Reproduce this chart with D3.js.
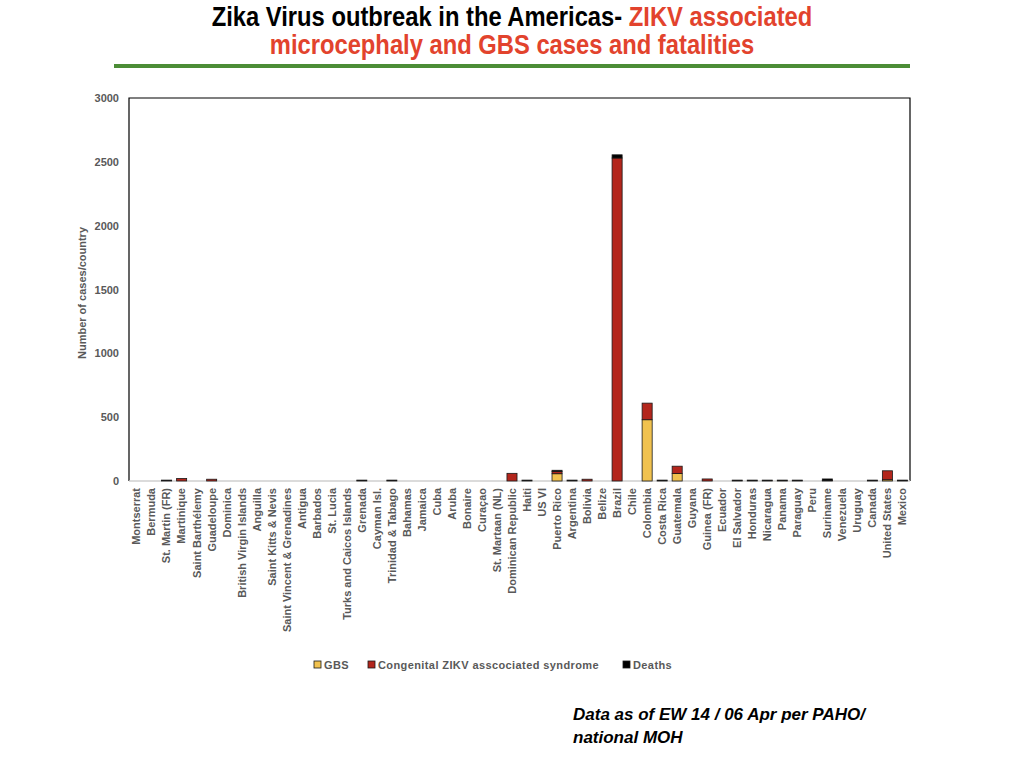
<!DOCTYPE html>
<html lang="en">
<head>
    <meta charset="UTF-8">
    <title>Zika Virus outbreak in the Americas</title>
    <script src="https://d3js.org/d3.v7.min.js"></script>
    <style>
        body { margin: 0; background: #fff; }
        svg { display: block; }
    </style>
</head>
<body>
    <div id="chart"></div>

    <script>
        // categories (x axis)
        const countries = [
            'Montserrat', 'Bermuda', 'St. Martin (FR)', 'Martinique', 'Saint Barthélemy',
            'Guadeloupe', 'Dominica', 'British Virgin Islands', 'Anguilla', 'Saint Kitts & Nevis',
            'Saint Vincent & Grenadines', 'Antigua', 'Barbados', 'St. Lucia', 'Turks and Caicos Islands',
            'Grenada', 'Cayman Isl.', 'Trinidad & Tabago', 'Bahamas', 'Jamaica',
            'Cuba', 'Aruba', 'Bonaire', 'Curaçao', 'St. Martaan (NL)',
            'Dominican Republic', 'Haiti', 'US VI', 'Puerto Rico', 'Argentina',
            'Bolivia', 'Belize', 'Brazil', 'Chile', 'Colombia',
            'Costa Rica', 'Guatemala', 'Guyana', 'Guinea (FR)', 'Ecuador',
            'El Salvador', 'Honduras', 'Nicaragua', 'Panama', 'Paraguay',
            'Peru', 'Suriname', 'Venezuela', 'Uruguay', 'Canada',
            'United States', 'Mexico'
        ];

        // series values, same order as countries
        const gbs = [
            0, 0, 0, 0, 0,   0, 0, 0, 0, 0,
            0, 0, 0, 0, 0,   0, 0, 0, 0, 0,
            0, 0, 0, 0, 0,   0, 0, 0, 57, 0,
            0, 0, 0, 0, 480, 0, 58, 0, 0, 0,
            0, 0, 0, 0, 0,   0, 0, 0, 0, 0,
            10, 0
        ];
        const congenital = [
            0, 0, 0, 20, 0,  14, 0, 0, 0, 0,
            0, 0, 0, 0, 0,   0, 0, 0, 0, 0,
            0, 0, 0, 0, 0,   60, 0, 0, 18, 0,
            14, 0, 2530, 0, 130, 0, 58, 0, 16, 0,
            0, 0, 0, 0, 0,   0, 4, 0, 0, 0,
            70, 0
        ];
        const deaths = [
            0, 0, 7, 0, 0,   0, 0, 0, 0, 0,
            0, 0, 0, 0, 0,   7, 0, 7, 0, 0,
            0, 0, 0, 0, 0,   0, 7, 0, 9, 7,
            0, 0, 25, 0, 0,  7, 0, 0, 0, 0,
            7, 7, 7, 7, 7,   0, 12, 0, 0, 7,
            0, 7
        ];

        const yTicks = [0, 500, 1000, 1500, 2000, 2500, 3000];

        const seriesNames = ['GBS', 'Congenital ZIKV asscociated syndrome', 'Deaths'];
        const seriesColors = ['#f1c24f', '#b3261c', '#000000'];

        // table for d3.stack
        const rows = countries.map((c, i) => ({
            country: c, gbs: gbs[i], congenital: congenital[i], deaths: deaths[i]
        }));
        const keys = ['gbs', 'congenital', 'deaths'];

        const W = 1024, H = 768;
        const plot = {left: 129, right: 910, top: 98, bottom: 481};
        const grey = '#595959';
        const sans = '"Liberation Sans", Arial, Helvetica, sans-serif';

        const svg = d3.select('#chart')
            .append('svg')
                .attr('width', W)
                .attr('height', H);

        // title - condensed look by squeezing a taller font horizontally
        const squeeze = 0.88;
        const title = svg.append('text')
            .attr('transform', `scale(${squeeze}, 1)`)
            .attr('text-anchor', 'middle')
            .style('font-family', sans)
            .style('font-weight', 'bold')
            .style('font-size', '27px');
        title.append('tspan')
            .attr('x', 512 / squeeze).attr('y', 26)
            .attr('fill', '#000')
            .text('Zika Virus outbreak in the Americas- ');
        title.append('tspan')
            .attr('fill', '#e2432d')
            .text('ZIKV associated');
        title.append('tspan')
            .attr('x', 512 / squeeze).attr('y', 54)
            .attr('fill', '#e2432d')
            .text('microcephaly and GBS cases and fatalities');

        // green rule under the title
        svg.append('rect')
            .attr('x', 114).attr('y', 64)
            .attr('width', 796).attr('height', 4)
            .attr('fill', '#4c8d36');

        // scales
        const x = d3.scaleBand()
            .domain(countries)
            .range([plot.left, plot.right])
            .paddingInner(0.33)
            .paddingOuter(0.17);

        const y = d3.scaleLinear()
            .domain([0, 3000])
            .range([plot.bottom, plot.top]);

        // plot frame: black top / left / right, grey baseline
        svg.append('path')
            .attr('d', `M${plot.left},${plot.bottom}V${plot.top}H${plot.right}V${plot.bottom}`)
            .attr('fill', 'none')
            .attr('stroke', '#000')
            .attr('stroke-width', 1.2);

        // x axis (baseline drawn under the bars)
        const xAxis = svg.append('g')
            .attr('transform', `translate(0, ${plot.bottom})`)
            .call(d3.axisBottom(x).tickSize(0).tickPadding(0));
        xAxis.select('.domain')
            .attr('stroke', '#cfcfcf')
            .attr('stroke-width', 1.5)
            .attr('d', `M${plot.left},0H${plot.right}`);
        xAxis.selectAll('text')
            .attr('transform', 'rotate(-90)')
            .attr('text-anchor', 'end')
            .attr('x', -7)
            .attr('y', 0)
            .attr('dy', '0.35em')
            .attr('fill', grey)
            .style('font-family', sans)
            .style('font-weight', 'bold')
            .style('font-size', '11px');

        // bars
        const stacked = d3.stack().keys(keys)(rows);
        svg.append('g')
            .selectAll('g')
            .data(stacked)
            .join('g')
                .attr('fill', (d, i) => seriesColors[i])
            .selectAll('rect')
            .data(d => d.filter(p => p[1] - p[0] > 0))
            .join('rect')
                .attr('x', d => x(d.data.country))
                .attr('width', x.bandwidth())
                .attr('y', d => y(d[1]))
                .attr('height', d => y(d[0]) - y(d[1]))
                .attr('stroke', '#1a1a1a')
                .attr('stroke-width', 0.8);

        // y axis
        const yAxis = svg.append('g')
            .attr('transform', `translate(${plot.left}, 0)`)
            .call(d3.axisLeft(y).tickValues(yTicks).tickSize(0).tickPadding(10).tickFormat(d3.format('d')));
        yAxis.select('.domain').remove();
        yAxis.selectAll('text')
            .attr('fill', grey)
            .style('font-family', sans)
            .style('font-weight', 'bold')
            .style('font-size', '11px');

        // y axis title
        svg.append('text')
            .attr('transform', 'translate(86, 293) rotate(-90)')
            .attr('text-anchor', 'middle')
            .attr('fill', grey)
            .style('font-family', sans)
            .style('font-weight', 'bold')
            .style('font-size', '11px')
            .text('Number of cases/country');

        // legend
        const legendX = [314, 368, 623];
        const legend = svg.append('g')
            .selectAll('g')
            .data(seriesNames)
            .join('g')
                .attr('transform', (d, i) => `translate(${legendX[i]}, 661)`);
        legend.append('rect')
            .attr('width', 7).attr('height', 7)
            .attr('fill', (d, i) => seriesColors[i])
            .attr('stroke', '#1a1a1a')
            .attr('stroke-width', 0.8);
        legend.append('text')
            .attr('x', 10).attr('y', 7.5)
            .attr('fill', grey)
            .style('font-family', sans)
            .style('font-weight', 'bold')
            .style('font-size', '11px')
            .style('letter-spacing', '0.4px')
            .text(d => d);

        // source note
        const note = svg.append('text')
            .attr('fill', '#000')
            .style('font-family', sans)
            .style('font-weight', 'bold')
            .style('font-style', 'italic')
            .style('font-size', '17px');
        note.append('tspan').attr('x', 573).attr('y', 720).text('Data as of EW 14 / 06 Apr per PAHO/');
        note.append('tspan').attr('x', 573).attr('y', 743).text('national MOH');
    </script>
</body>
</html>
